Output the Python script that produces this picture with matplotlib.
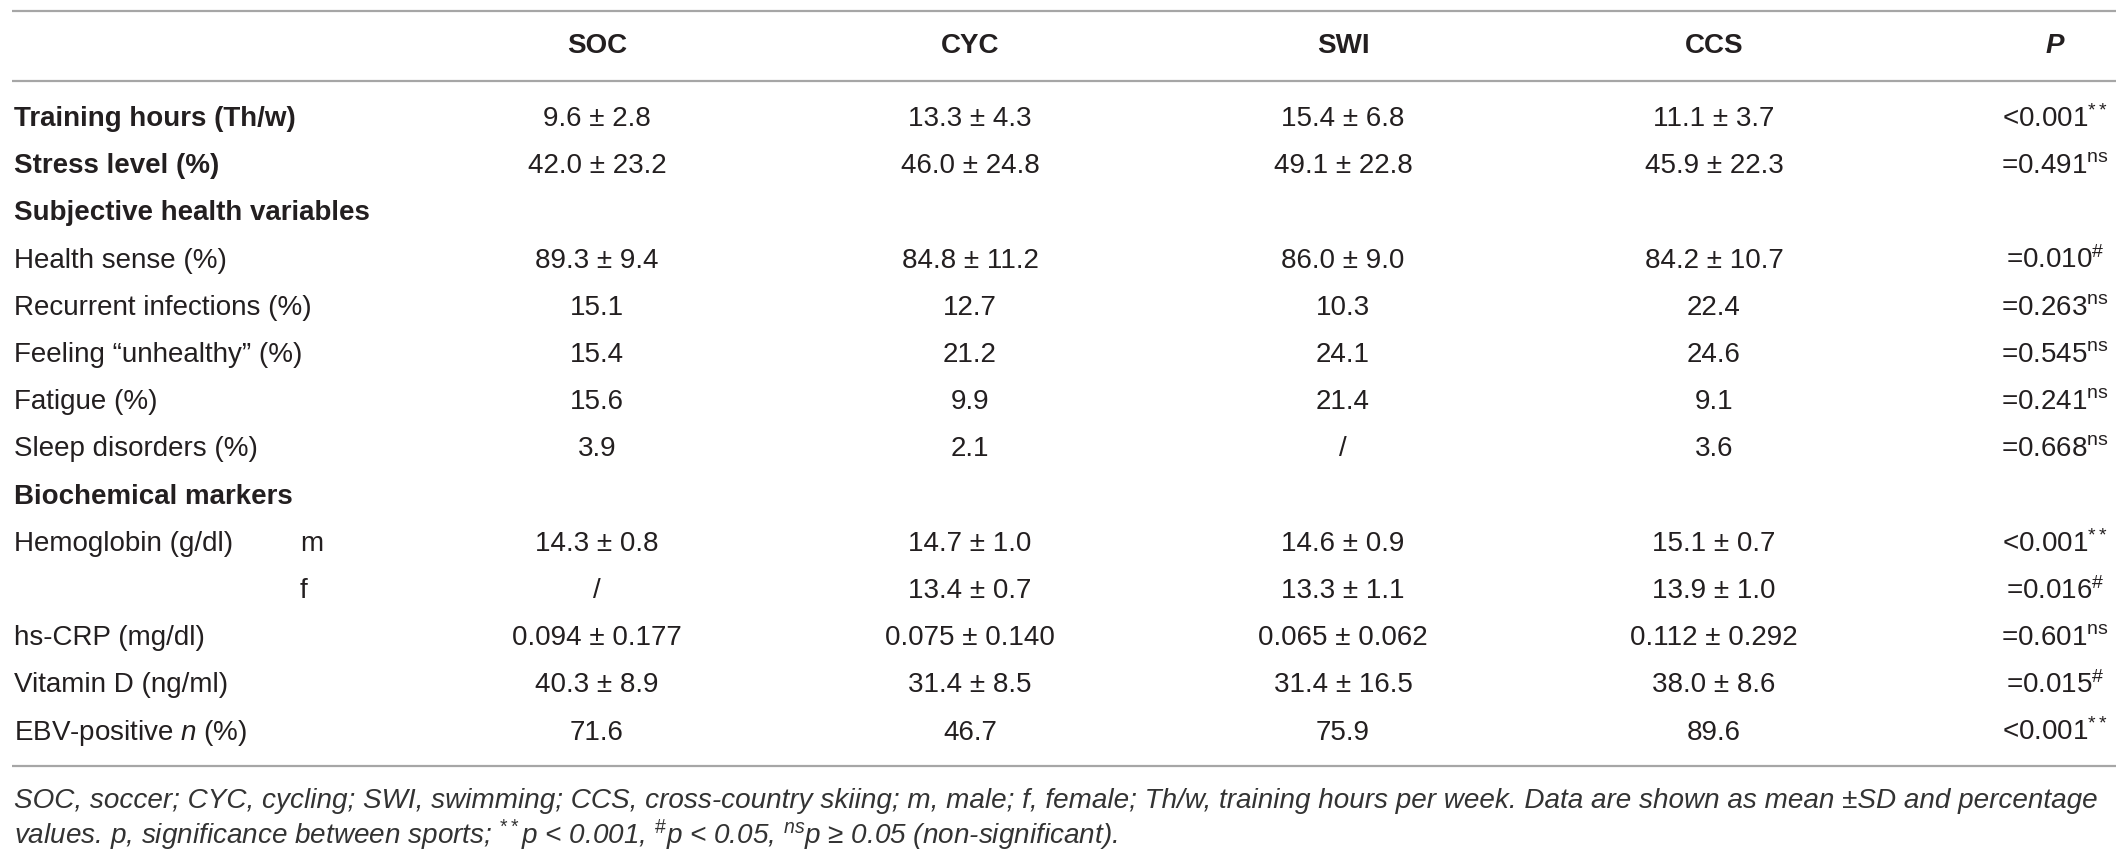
import matplotlib.pyplot as plt

plt.rcParams['font.family'] = ['Liberation Sans', 'DejaVu Sans']
plt.rcParams['mathtext.fontset'] = 'custom'
plt.rcParams['mathtext.rm'] = 'Liberation Sans'
plt.rcParams['mathtext.it'] = 'Liberation Sans:italic'
plt.rcParams['mathtext.bf'] = 'Liberation Sans:bold'

# table content
sports = ['SOC', 'CYC', 'SWI', 'CCS']
row_labels = ['Training hours (Th/w)', 'Stress level (%)', 'Subjective health variables',
              'Health sense (%)', 'Recurrent infections (%)', 'Feeling \u201cunhealthy\u201d (%)',
              'Fatigue (%)', 'Sleep disorders (%)', 'Biochemical markers',
              'Hemoglobin (g/dl)', '', 'hs-CRP (mg/dl)', 'Vitamin D (ng/ml)',
              r'EBV-positive $\mathit{n}$ (%)']
row_bold = [True, True, True, False, False, False, False, False, True,
            False, False, False, False, False]
sub_labels = ['', '', '', '', '', '', '', '', '', 'm', 'f', '', '', '']
soc = ['9.6 \u00b1 2.8', '42.0 \u00b1 23.2', '', '89.3 \u00b1 9.4', '15.1', '15.4', '15.6', '3.9', '',
       '14.3 \u00b1 0.8', '/', '0.094 \u00b1 0.177', '40.3 \u00b1 8.9', '71.6']
cyc = ['13.3 \u00b1 4.3', '46.0 \u00b1 24.8', '', '84.8 \u00b1 11.2', '12.7', '21.2', '9.9', '2.1', '',
       '14.7 \u00b1 1.0', '13.4 \u00b1 0.7', '0.075 \u00b1 0.140', '31.4 \u00b1 8.5', '46.7']
swi = ['15.4 \u00b1 6.8', '49.1 \u00b1 22.8', '', '86.0 \u00b1 9.0', '10.3', '24.1', '21.4', '/', '',
       '14.6 \u00b1 0.9', '13.3 \u00b1 1.1', '0.065 \u00b1 0.062', '31.4 \u00b1 16.5', '75.9']
ccs = ['11.1 \u00b1 3.7', '45.9 \u00b1 22.3', '', '84.2 \u00b1 10.7', '22.4', '24.6', '9.1', '3.6', '',
       '15.1 \u00b1 0.7', '13.9 \u00b1 1.0', '0.112 \u00b1 0.292', '38.0 \u00b1 8.6', '89.6']
p_values = ['<0.001', '=0.491', '', '=0.010', '=0.263', '=0.545', '=0.241', '=0.668', '',
            '<0.001', '=0.016', '=0.601', '=0.015', '<0.001']
p_marks = ['**', 'ns', '', '#', 'ns', 'ns', 'ns', 'ns', '', '**', '#', 'ns', '#', '**']

footnote = [
    'SOC, soccer; CYC, cycling; SWI, swimming; CCS, cross-country skiing; m, male; f, female; '
    'Th/w, training hours per week. Data are shown as mean \u00b1SD and percentage',
    r'values. p, significance between sports; $^{\mathit{**}}$p < 0.001, $^{\#}$p < 0.05, '
    r'$^{\mathit{ns}}$p ' + '\u2265 0.05 (non-significant).',
]

W, H = 2128, 860
fig = plt.figure(figsize=(W / 100, H / 100), dpi=100)
ax = fig.add_axes([0, 0, 1, 1])
ax.set_xlim(0, W)
ax.set_ylim(H, 0)
ax.axis('off')

txt = '#231f20'
line_c = '#a6a6a6'
fs = 20

col_x = [597, 970, 1343, 1714]
p_x = 2055
y_head = 46
y0, dy = 119, 47.2

# rules
for y in [11, 81, 766]:
    ax.plot([12, 2116], [y, y], color=line_c, lw=1.6, solid_capstyle='butt')

# header
for x, s in zip(col_x, sports):
    ax.text(x, y_head, s, ha='center', va='center', fontsize=fs, fontweight='bold', color=txt)
ax.text(p_x, y_head, 'P', ha='center', va='center', fontsize=fs, fontweight='bold',
        fontstyle='italic', color=txt)

# body
cols = [soc, cyc, swi, ccs]
for i, lab in enumerate(row_labels):
    y = y0 + i * dy
    ax.text(14, y, lab, ha='left', va='center', fontsize=fs, color=txt,
            fontweight='bold' if row_bold[i] else 'normal')
    if sub_labels[i]:
        ax.text(300, y, sub_labels[i], ha='left', va='center', fontsize=fs, color=txt)
    for x, col in zip(col_x, cols):
        if col[i]:
            ax.text(x, y, col[i], ha='center', va='center', fontsize=fs, color=txt)
    if p_values[i]:
        mark = r'\#' if p_marks[i] == '#' else (r'\mathrm{' + p_marks[i] + '}')
        ax.text(p_x, y, p_values[i] + '$^{' + mark + '}$', ha='center', va='center',
                fontsize=fs, color=txt)

# footnote
for j, line in enumerate(footnote):
    ax.text(14, 801 + j * 34, line, ha='left', va='center', fontsize=20.1,
            fontstyle='italic', color='#333333')

fig.savefig('out.png', dpi=100)
